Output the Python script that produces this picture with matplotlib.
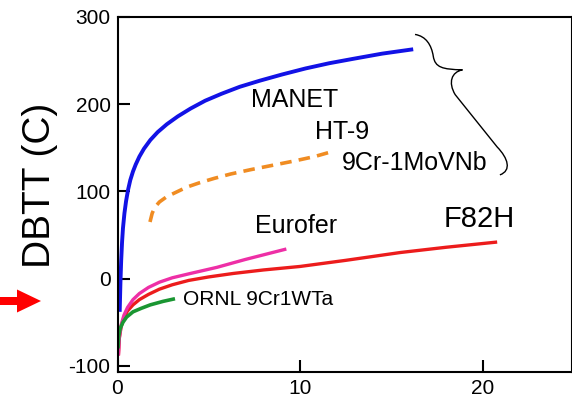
from matplotlib import pyplot as pl
from matplotlib.patches import FancyArrow, PathPatch
from matplotlib.path import Path

pl.rcParams['font.family'] = ['Liberation Sans', 'DejaVu Sans']
pl.rcParams['axes.unicode_minus'] = False

# values (dpa, DBTT in C)
manet_x = [0.12, 0.16, 0.2, 0.25, 0.3, 0.38, 0.47, 0.58, 0.7, 0.85, 1.0, 1.2, 1.45, 1.8,
           2.2, 2.7, 3.3, 4.0, 4.8, 5.7, 6.7, 7.8, 9.0, 10.3, 11.6, 12.9, 14.5, 16.2]
manet_y = [-38, -5, 20, 42, 58, 75, 89, 102, 113, 123, 131, 140, 149, 159,
           168, 177, 186, 195, 204, 212, 220, 227, 234, 241, 247, 252, 258, 263]

ht9_x = [1.78, 1.9, 2.05, 2.3, 2.7, 3.2, 3.8, 4.5, 5.3, 6.2, 7.3, 8.5, 9.7, 10.8, 11.8]
ht9_y = [65, 75, 82, 88, 94, 99, 105, 110, 115, 120, 125, 130, 135, 140, 146]

f82h_x = [0.05, 0.1, 0.2, 0.35, 0.55, 0.85, 1.2, 1.7, 2.3, 3.0, 3.9, 5.0, 6.35, 8.0,
          10.0, 12.5, 15.5, 18.0, 20.8]
f82h_y = [-88, -68, -55, -45, -37, -30, -24, -18, -12, -7, -2, 2, 6, 10,
          14, 21, 30, 36, 42]

eurofer_x = [0.05, 0.1, 0.2, 0.35, 0.55, 0.85, 1.2, 1.7, 2.3, 3.0, 4.0, 5.45, 7.0, 9.25]
eurofer_y = [-88, -68, -53, -42, -33, -24, -17, -10, -4, 1, 6, 13, 22, 34]

ornl_x = [0.03, 0.07, 0.15, 0.3, 0.5, 0.85, 1.3, 1.8, 2.5, 3.15]
ornl_y = [-80, -66, -57, -50, -44, -38, -34, -30, -26, -23]

fig = pl.figure(figsize=(5.72, 4.01), dpi=100)
ax = fig.add_axes([117.5 / 572, 1 - 372 / 401, 454.5 / 572, 355 / 401])

ax.plot(manet_x, manet_y, color='#1212e6', lw=2.8, solid_capstyle='butt')
ax.plot(ht9_x, ht9_y, color='#f08c22', lw=2.6, dashes=(3.2, 2.0), dash_capstyle='butt')
ax.plot(f82h_x, f82h_y, color='#ec1c1c', lw=2.4, solid_capstyle='butt')
ax.plot(eurofer_x, eurofer_y, color='#ee2fa6', lw=2.4, solid_capstyle='butt')
ax.plot(ornl_x, ornl_y, color='#1a9632', lw=2.6, solid_capstyle='butt')

ax.text(9.7, 205, 'MANET', fontsize=18, ha='center', va='center')
ax.text(12.3, 168, 'HT-9', fontsize=18, ha='center', va='center')
ax.text(16.3, 133, '9Cr-1MoVNb', fontsize=18, ha='center', va='center')
ax.text(9.8, 60, 'Eurofer', fontsize=18, ha='center', va='center')
ax.text(19.8, 68, 'F82H', fontsize=21, ha='center', va='center')
ax.text(3.6, -24, 'ORNL 9Cr1WTa', fontsize=15, ha='left', va='center')

# curly brace grouping the three upper curves
verts = [(16.3, 280), (16.9, 278), (17.2, 268), (17.3, 255),
         (17.4, 242), (17.8, 240), (18.9, 239.4),
         (18.3, 237), (18.1, 225), (18.5, 211),
         (20.8, 151),
         (21.4, 138), (21.6, 124), (20.95, 119)]
codes = [Path.MOVETO, Path.CURVE4, Path.CURVE4, Path.CURVE4,
         Path.CURVE4, Path.CURVE4, Path.CURVE4,
         Path.CURVE4, Path.CURVE4, Path.CURVE4,
         Path.LINETO,
         Path.CURVE4, Path.CURVE4, Path.CURVE4]
ax.add_patch(PathPatch(Path(verts, codes), fill=False, lw=1.0, color='black'))

ax.set_xlim(0, 24.9)
ax.set_ylim(-107, 300)
ax.set_xticks([0, 10, 20])
ax.set_yticks([-100, 0, 100, 200, 300])
ax.tick_params(direction='in', length=8.5, width=1.5, labelsize=15, pad=5,
               top=False, right=False)
for s in ax.spines.values():
    s.set_linewidth(1.5)

ax.set_ylabel('DBTT (C)', fontsize=28)
ax.yaxis.set_label_coords((58 - 117.5) / 454.5, 0.527)

# red arrow at the left margin
fig.patches.append(FancyArrow(0, 1 - 301 / 401, 41 / 572, 0,
                              width=8 / 401, head_width=23 / 401,
                              head_length=24 / 572, length_includes_head=True,
                              color='#ff0000', lw=0, transform=fig.transFigure,
                              figure=fig))

fig.savefig('out.png', dpi=100)
